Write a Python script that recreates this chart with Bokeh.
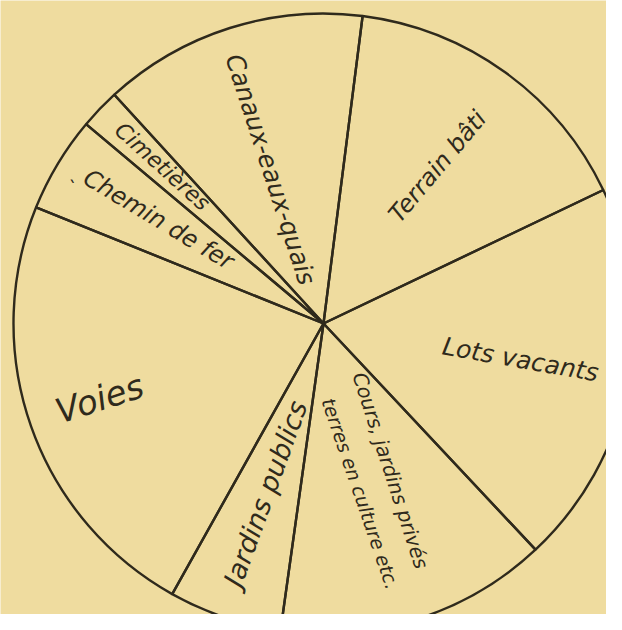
import numpy as np
from bokeh.plotting import figure
from bokeh.models import Range1d, ColumnDataSource
from bokeh.core.properties import value
from bokeh.embed import file_html
from bokeh.resources import INLINE

# Data (share of the area, percent), clockwise from the top boundary
categories = ["Terrain bâti", "Lots vacants", "Cours, jardins privés", "Jardins publics",
              "Voies", "Chemin de fer", "Cimetières", "Canaux-eaux-quais"]
shares = [15.9, 20.1, 14.2, 5.9, 23.0, 5.0, 2.1, 13.8]

BG = "#efdc9f"
INK = "#2f2a1c"
R = 310
START_DEG = 82.75
FONT = value("DejaVu Sans")

p = figure(width=606, height=614, output_backend="svg", toolbar_location=None,
           x_range=Range1d(-323, 283), y_range=Range1d(-291, 323), min_border=0)
p.axis.visible = False
p.grid.visible = False
p.outline_line_color = None
p.background_fill_color = BG
p.border_fill_color = BG

vals = np.array(shares, dtype=float)
frac = vals / vals.sum() * 360.0
cum_after = np.cumsum(frac)
cum_before = cum_after - frac
src = ColumnDataSource(dict(
    cat=categories,
    start=np.deg2rad(START_DEG - cum_after),
    end=np.deg2rad(START_DEG - cum_before),
))
p.wedge(x=0, y=0, radius=R, start_angle="start", end_angle="end", source=src,
        fill_color=None, line_color=INK, line_width=2.4)

# Labels (hand-lettered, rotated)
labels = [
    # text, x, y, angle(deg), size
    ("Canaux-eaux-quais", -53, 154, -72, 25),
    ("Terrain bâti", 114, 157, 50, 24),
    ("Lots vacants", 197, -36, -10, 25),
    ("Cours, jardins privés", 67, -147, -72, 20),
    ("terres en culture etc.", 37, -170, -71, 19),
    ("Jardins publics", -58, -170, 70, 27),
    ("Voies", -224, -75, 18, 34),
    ("Chemin de fer", -165, 104, -31, 24),
    ("Cimetières", -161, 157, -42, 22),
    ("`", -252, 136, 0, 18),
]
for t, x, y, a, s in labels:
    p.text(x=[x], y=[y], text=[t], angle=a, angle_units="deg",
           text_font=FONT, text_font_style="italic",
           text_font_size=f"{s}px", text_color=INK,
           text_align="center", text_baseline="middle")

open("out.html", "w").write(file_html(p, INLINE))
